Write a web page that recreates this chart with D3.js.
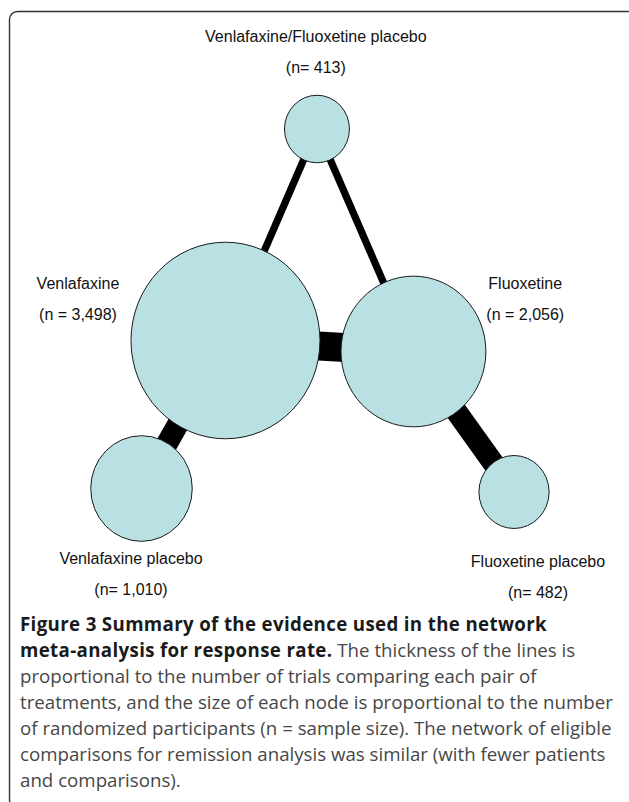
<!DOCTYPE html>
<html>
<head>
<meta charset="utf-8">
<script src="https://cdn.jsdelivr.net/npm/d3@7"></script>
<style>
  body { margin: 0; background: #fff; }
  svg { display: block; }
</style>
</head>
<body>
<svg id="svg"></svg>
<script>
// treatments and randomized participants
const nodeIds = ["vfp", "ven", "flu", "vp", "fp"];
const nodeNames = ["Venlafaxine/Fluoxetine placebo", "Venlafaxine", "Fluoxetine", "Venlafaxine placebo", "Fluoxetine placebo"];
const nodeN = [413, 3498, 2056, 1010, 482];
const nodeNLabels = ["(n= 413)", "(n = 3,498)", "(n = 2,056)", "(n= 1,010)", "(n= 482)"];

const edgeFrom = ["vfp", "vfp", "ven", "ven", "flu"];
const edgeTo = ["ven", "flu", "flu", "vp", "fp"];
const edgeTrials = [1, 1, 4, 3, 3];

// layout units (0-10) for the drawing
const nodeGX = [4.71, 2.255, 7.30, 0, 10];
const nodeGY = [0.136, 5.883, 6.182, 9.905, 10];
const labelGX = [4.68, -1.705, 10.302, -0.282, 10.644];
const labelGY = [-2.215, 4.484, 4.484, 11.957, 12.038];

const captionLines = [
  ["Figure 3 Summary of the evidence used in the network", ""],
  ["meta-analysis for response rate.", " The thickness of the lines is"],
  ["", "proportional to the number of trials comparing each pair of"],
  ["", "treatments, and the size of each node is proportional to the number"],
  ["", "of randomized participants (n = sample size). The network of eligible"],
  ["", "comparisons for remission analysis was similar (with fewer patients"],
  ["", "and comparisons)."]
];

let width = 629, height = 802;
let svg = d3.select("#svg").attr("width", width).attr("height", height);

// frame
svg.append("rect")
  .attr("x", 9.5).attr("y", 11.5)
  .attr("width", 628).attr("height", 796)
  .attr("rx", 8)
  .attr("fill", "none")
  .attr("stroke", "#333")
  .attr("stroke-width", 1.4);

let x = d3.scaleLinear().domain([0, 10]).range([141.5, 514]);
let y = d3.scaleLinear().domain([0, 10]).range([124, 492]);
let r = d3.scaleSqrt().domain([0, 3498]).range([0, 94.5]);
let w = d3.scaleLinear().domain([0, 4]).range([0, 29]);
let stretch = 1.04;

let nodes = nodeIds.map((id, i) => ({
  id: id, name: nodeNames[i], n: nodeN[i], nLabel: nodeNLabels[i],
  gx: nodeGX[i], gy: nodeGY[i], lx: labelGX[i], ly: labelGY[i]
}));
let byId = {};
nodes.forEach(d => byId[d.id] = d);

let edges = edgeFrom.map((f, i) => ({ source: byId[f], target: byId[edgeTo[i]], trials: edgeTrials[i] }));

svg.append("g").selectAll("line")
  .data(edges)
  .join("line")
  .attr("x1", d => x(d.source.gx))
  .attr("y1", d => y(d.source.gy))
  .attr("x2", d => x(d.target.gx))
  .attr("y2", d => y(d.target.gy))
  .attr("stroke", "#000")
  .attr("stroke-width", d => w(d.trials));

svg.append("g").selectAll("ellipse")
  .data(nodes)
  .join("ellipse")
  .attr("cx", d => x(d.gx))
  .attr("cy", d => y(d.gy))
  .attr("rx", d => r(d.n))
  .attr("ry", d => r(d.n) * stretch)
  .attr("fill", "#b9e0e3")
  .attr("stroke", "#1a1a1a")
  .attr("stroke-width", 1);

let labels = svg.append("g")
  .attr("font-family", "'Liberation Sans', Arial, sans-serif")
  .attr("font-size", 16)
  .attr("fill", "#111")
  .attr("text-anchor", "middle");

labels.selectAll("text.name")
  .data(nodes)
  .join("text")
  .attr("class", "name")
  .attr("x", d => x(d.lx))
  .attr("y", d => y(d.ly))
  .text(d => d.name);

labels.selectAll("text.count")
  .data(nodes)
  .join("text")
  .attr("class", "count")
  .attr("x", d => x(d.lx))
  .attr("y", d => y(d.ly) + 31)
  .text(d => d.nLabel);

// caption
let cap = svg.append("g")
  .attr("font-family", "'Open Sans', sans-serif")
  .attr("font-size", 18.7);

cap.selectAll("text")
  .data(captionLines)
  .join("text")
  .attr("x", 20)
  .attr("y", (d, i) => 631 + i * 26)
  .each(function(d) {
    let t = d3.select(this);
    if (d[0]) t.append("tspan").attr("font-weight", 700).attr("letter-spacing", 0.35).attr("fill", "#1a1a1a").text(d[0]);
    if (d[1]) t.append("tspan").attr("fill", "#474747").text(d[1]);
  });
</script>
</body>
</html>
